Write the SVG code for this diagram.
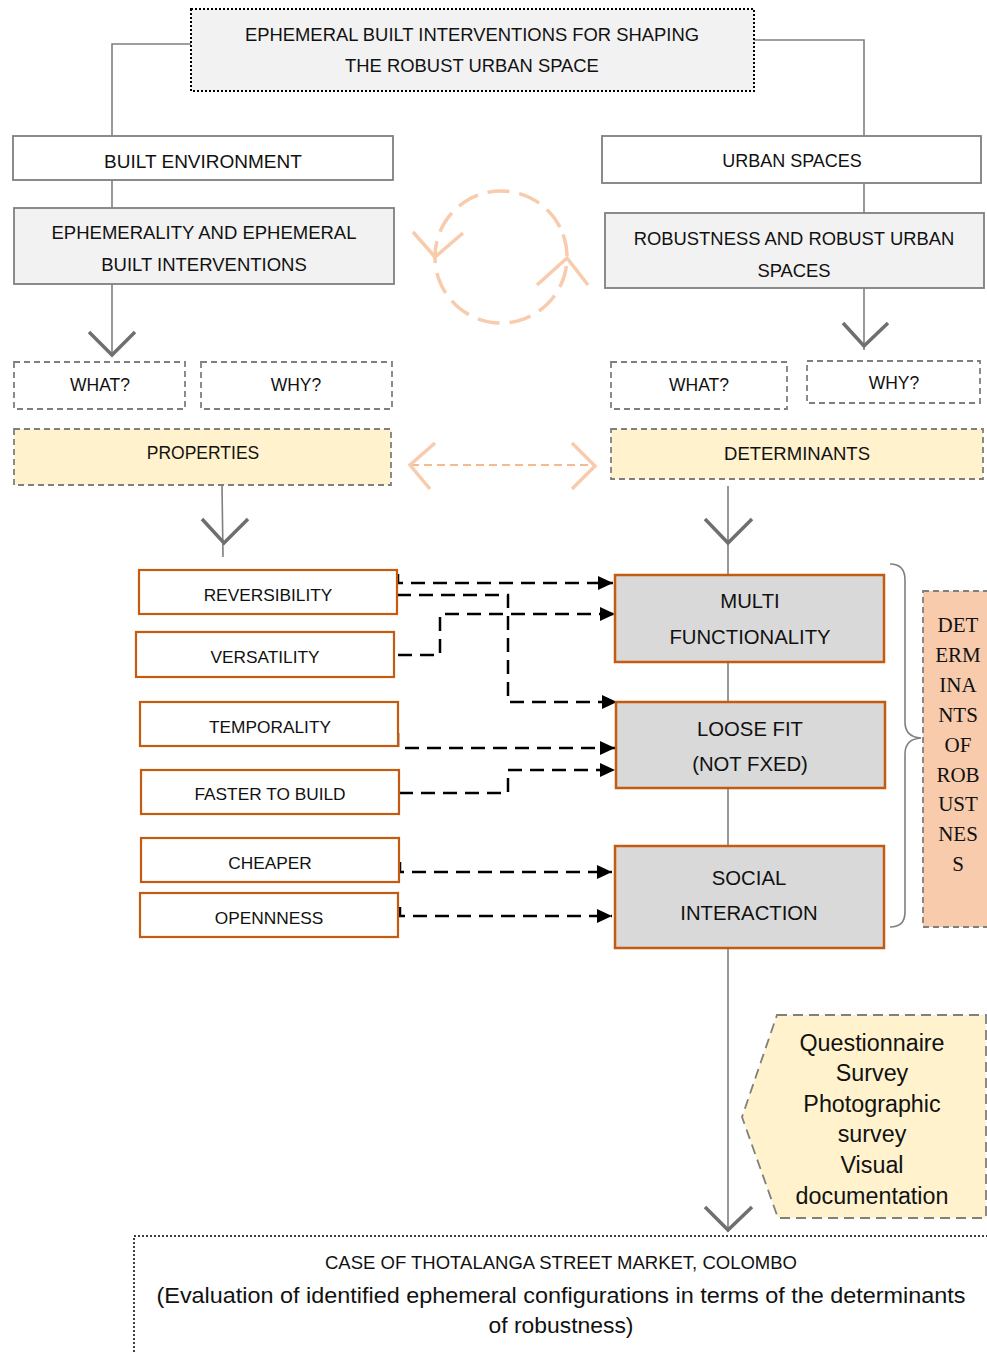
<svg xmlns="http://www.w3.org/2000/svg" width="987" height="1352" viewBox="0 0 987 1352">
<defs>
<style>
.t{font-family:"Liberation Sans",Arial,sans-serif;fill:#111;text-anchor:middle;dominant-baseline:central}
.ts{font-family:"Liberation Serif","Times New Roman",serif;fill:#111;text-anchor:middle;dominant-baseline:central;font-size:21px}
.box{fill:#fff;stroke:#7f7f7f;stroke-width:1.8}
.boxg{fill:#f2f2f2;stroke:#7f7f7f;stroke-width:1.8}
.dash{fill:#fff;stroke:#7f7f7f;stroke-width:1.8;stroke-dasharray:6 4}
.dashy{fill:#fff2cc;stroke:#7f7f7f;stroke-width:1.8;stroke-dasharray:6 4}
.prop{fill:#fff;stroke:#c55a11;stroke-width:2.2}
.det{fill:#d9d9d9;stroke:#c55a11;stroke-width:2.5}
.ln{fill:none;stroke:#7f7f7f;stroke-width:1.6}
.vh{fill:none;stroke:#6f6f6f;stroke-width:3.5}
.dc{fill:none;stroke:#000;stroke-width:2.5;stroke-dasharray:14 8}
.pk{fill:none;stroke:#f8cbad;stroke-width:3.5}
.pt{font-size:17.3px}
.dt{font-size:20.3px}
.mt{font-size:23.3px}
</style>
<marker id="ah" markerUnits="userSpaceOnUse" markerWidth="15" markerHeight="14" refX="15" refY="7" orient="auto">
<path d="M0,0 L15,7 L0,14 z" fill="#000"/>
</marker>
</defs>

<g id="connectors">
<path class="ln" d="M191,44 H112 V137"/>
<path class="ln" d="M754,40 H864 V137"/>
<path class="ln" d="M112,180 V208"/>
<path class="ln" d="M864,183 V213"/>
<path class="ln" d="M112,284 V356"/>
<path class="vh" d="M89,332 L112,355 L135,332"/>
<path class="ln" d="M864,288 V350"/>
<path class="vh" d="M843,323 L864,346 L888,323"/>
<path class="ln" d="M222,485 L223,557"/>
<path class="vh" d="M202,519 L224,543 L248,519"/>
<path class="ln" d="M728,486 V575 M728,662 V702 M728,788 V846 M728,948 V1232"/>
<path class="vh" d="M705,519 L728,543 L752,519"/>
<path class="vh" d="M705,1207 L728,1230 L752,1207"/>
<!-- cycle -->
<circle cx="501" cy="257" r="66" class="pk" stroke-dasharray="22 10" transform="rotate(-20 501 257)"/>
<path class="pk" d="M413,232 L435,257 L463,233"/>
<path class="pk" d="M537,285 L567,258 L588,285"/>
<!-- double arrow -->
<line x1="411" y1="465" x2="594" y2="465" stroke="#f4a46c" stroke-width="1.5" stroke-dasharray="8 5"/>
<path class="pk" d="M435,443 L410,465 L430,489"/>
<path class="pk" d="M572,443 L595,466 L572,489"/>
<!-- dashed black connectors -->
<path class="dc" marker-end="url(#ah)" d="M398,574 V583 H613"/>
<path class="dc" marker-end="url(#ah)" d="M397,595 H508 V702 H617"/>
<path class="dc" marker-end="url(#ah)" d="M398,655 H440 V614 H615"/>
<path class="dc" marker-end="url(#ah)" d="M398,733 V748 H615"/>
<path class="dc" marker-end="url(#ah)" d="M399,793 H508 V770 H615"/>
<path class="dc" marker-end="url(#ah)" d="M400,862 V872 H612"/>
<path class="dc" marker-end="url(#ah)" d="M400,907 V916 H612"/>
<!-- brace -->
<path class="ln" stroke-width="1.2" d="M890,564 Q905,564 905,580 L905,722 Q905,737 921,738 Q905,739 905,754 L905,912 Q905,927 890,927"/>
</g>

<g id="title">
<rect x="191" y="9" width="563" height="82" fill="#f2f2f2" stroke="#000" stroke-width="2" stroke-dasharray="2 2"/>
<text class="t" x="472" y="34" font-size="18.4">EPHEMERAL BUILT INTERVENTIONS FOR SHAPING</text>
<text class="t" x="472" y="65" font-size="18.4">THE ROBUST URBAN SPACE</text>
</g>

<g id="built-environment">
<rect class="box" x="13" y="136" width="380" height="44"/>
<text class="t" x="203" y="161" font-size="19">BUILT ENVIRONMENT</text>
</g>
<g id="ephemerality">
<rect class="boxg" x="14" y="208" width="380" height="76"/>
<text class="t" x="204" y="232" font-size="18.5">EPHEMERALITY AND EPHEMERAL</text>
<text class="t" x="204" y="264" font-size="18.5">BUILT INTERVENTIONS</text>
</g>
<g id="urban-spaces">
<rect class="box" x="602" y="136" width="379" height="47"/>
<text class="t" x="792" y="161" font-size="18">URBAN SPACES</text>
</g>
<g id="robustness">
<rect class="boxg" x="605" y="213" width="379" height="75"/>
<text class="t" x="794" y="238" font-size="18.4">ROBUSTNESS AND ROBUST URBAN</text>
<text class="t" x="794" y="270" font-size="18.4">SPACES</text>
</g>

<g id="what-left">
<rect class="dash" x="14" y="362" width="171" height="47"/>
<text class="t" x="100" y="385" font-size="17.5">WHAT?</text>
</g>
<g id="why-left">
<rect class="dash" x="201" y="362" width="191" height="47"/>
<text class="t" x="296" y="385" font-size="17.5">WHY?</text>
</g>
<g id="what-right">
<rect class="dash" x="611" y="362" width="176" height="47"/>
<text class="t" x="699" y="385" font-size="17.5">WHAT?</text>
</g>
<g id="why-right">
<rect class="dash" x="807" y="361" width="173" height="42"/>
<text class="t" x="894" y="383" font-size="17.5">WHY?</text>
</g>
<g id="properties">
<rect class="dashy" x="14" y="429" width="377" height="56"/>
<text class="t" x="203" y="453" font-size="17.5">PROPERTIES</text>
</g>
<g id="determinants">
<rect class="dashy" x="611" y="429" width="372" height="50"/>
<text class="t" x="797" y="453" font-size="18.5">DETERMINANTS</text>
</g>

<g id="reversibility">
<rect class="prop" x="139" y="570" width="258" height="44"/>
<text class="t pt" x="268" y="595">REVERSIBILITY</text>
</g>
<g id="versatility">
<rect class="prop" x="136" y="632" width="258" height="45"/>
<text class="t pt" x="265" y="657">VERSATILITY</text>
</g>
<g id="temporality">
<rect class="prop" x="140" y="702" width="258" height="44"/>
<text class="t pt" x="270" y="727">TEMPORALITY</text>
</g>
<g id="faster-to-build">
<rect class="prop" x="141" y="770" width="258" height="44"/>
<text class="t pt" x="270" y="794">FASTER TO BUILD</text>
</g>
<g id="cheaper">
<rect class="prop" x="141" y="838" width="258" height="44"/>
<text class="t pt" x="270" y="863">CHEAPER</text>
</g>
<g id="openness">
<rect class="prop" x="140" y="893" width="258" height="44"/>
<text class="t pt" x="269" y="918">OPENNNESS</text>
</g>

<g id="multi-functionality">
<rect class="det" x="615" y="575" width="269" height="87"/>
<text class="t dt" x="750" y="601">MULTI</text>
<text class="t dt" x="750" y="637">FUNCTIONALITY</text>
</g>
<g id="loose-fit">
<rect class="det" x="616" y="702" width="269" height="86"/>
<text class="t dt" x="750" y="729">LOOSE FIT</text>
<text class="t dt" x="750" y="764">(NOT FXED)</text>
</g>
<g id="social-interaction">
<rect class="det" x="615" y="846" width="269" height="102"/>
<text class="t dt" x="749" y="878">SOCIAL</text>
<text class="t dt" x="749" y="913">INTERACTION</text>
</g>

<g id="determinants-of-robustness">
<rect x="923" y="591" width="80" height="336" fill="#f8cbad" stroke="#7f7f7f" stroke-width="1.8" stroke-dasharray="6 4"/>
<text class="ts" x="958" y="625">DET</text>
<text class="ts" x="958" y="655">ERM</text>
<text class="ts" x="958" y="685">INA</text>
<text class="ts" x="958" y="715">NTS</text>
<text class="ts" x="958" y="745">OF</text>
<text class="ts" x="958" y="775">ROB</text>
<text class="ts" x="958" y="804">UST</text>
<text class="ts" x="958" y="834">NES</text>
<text class="ts" x="958" y="864">S</text>
</g>

<g id="methods">
<polygon points="777,1015 986,1015 986,1218 778,1218 742,1117" fill="#fff2cc" stroke="#7f7f7f" stroke-width="1.8" stroke-dasharray="10 6"/>
<text class="t mt" x="872" y="1043">Questionnaire</text>
<text class="t mt" x="872" y="1073">Survey</text>
<text class="t mt" x="872" y="1104">Photographic</text>
<text class="t mt" x="872" y="1134">survey</text>
<text class="t mt" x="872" y="1165">Visual</text>
<text class="t mt" x="872" y="1196">documentation</text>
</g>

<g id="case">
<rect x="134" y="1236" width="870" height="140" fill="#fff" stroke="#000" stroke-width="1.5" stroke-dasharray="2 2"/>
<text class="t" x="561" y="1262" font-size="19" textLength="472" lengthAdjust="spacingAndGlyphs">CASE OF THOTALANGA STREET MARKET, COLOMBO</text>
<text class="t" x="561" y="1295" font-size="22" textLength="809" lengthAdjust="spacingAndGlyphs">(Evaluation of identified ephemeral configurations in terms of the determinants</text>
<text class="t" x="561" y="1325" font-size="22" textLength="145" lengthAdjust="spacingAndGlyphs">of robustness)</text>
</g>
</svg>
